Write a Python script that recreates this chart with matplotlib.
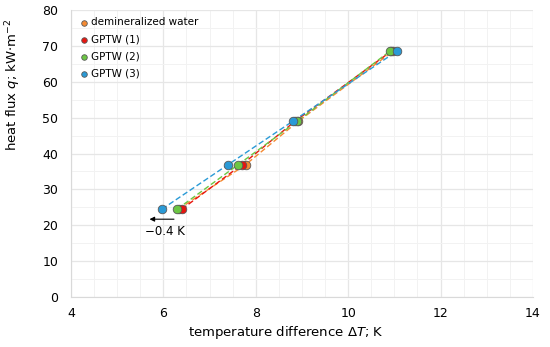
import matplotlib.pyplot as plt
from matplotlib.ticker import MultipleLocator

# heat flux levels (kW/m2)
q_demin = [24.5, 36.9, 49.0, 68.5]
q_gptw1 = [24.5, 36.9, 49.0, 68.5]
q_gptw2 = [24.5, 36.9, 49.0, 68.5]
q_gptw3 = [24.5, 36.9, 49.0, 68.5]

# temperature differences (K)
dT_demin = [6.33, 7.78, 8.92, 10.97]
dT_gptw1 = [6.40, 7.70, 8.85, 10.93]
dT_gptw2 = [6.30, 7.62, 8.90, 10.90]
dT_gptw3 = [5.97, 7.40, 8.80, 11.05]

labels = ['demineralized water', 'GPTW (1)', 'GPTW (2)', 'GPTW (3)']
colors = ['#f58a32', '#e8150f', '#6cc644', '#2a9ad6']

fig = plt.figure(figsize=(5.5, 3.47), dpi=100)
ax = fig.add_axes([0.129, 0.144, 0.84, 0.827])

series = [(dT_demin, q_demin), (dT_gptw1, q_gptw1), (dT_gptw2, q_gptw2), (dT_gptw3, q_gptw3)]
for (x, y), lab, c in zip(series, labels, colors):
    ax.plot(x, y, ls=(0, (4, 2)), lw=1.0, color=c, zorder=2)
    ax.scatter(x, y, s=38, color=c, edgecolor='#595959', linewidth=0.6, zorder=3, label=lab)

# shift arrow
ax.annotate('', xy=(5.64, 21.7), xytext=(6.29, 21.7),
            arrowprops=dict(arrowstyle='-|>', color='black', lw=0.8, mutation_scale=7))
ax.text(6.03, 18.4, '\u22120.4 K', ha='center', va='center', fontsize=8.5)

ax.set_xlim(4, 14)
ax.set_ylim(0, 80)
ax.xaxis.set_major_locator(MultipleLocator(2))
ax.xaxis.set_minor_locator(MultipleLocator(0.5))
ax.yaxis.set_major_locator(MultipleLocator(10))
ax.yaxis.set_minor_locator(MultipleLocator(5))
ax.grid(which='major', color='#e6e6e6', lw=0.9)
ax.grid(which='minor', color='#f2f2f2', lw=0.7)
ax.set_axisbelow(True)
ax.tick_params(which='both', length=0, labelsize=9)
ax.tick_params(axis='x', pad=7)
ax.tick_params(axis='y', pad=9)
for s in ax.spines.values():
    s.set_visible(False)
ax.spines['left'].set_visible(True)
ax.spines['bottom'].set_visible(True)
ax.spines['left'].set_color('#d9d9d9')
ax.spines['bottom'].set_color('#d9d9d9')

ax.set_xlabel(r'temperature difference $\Delta T$; K', fontsize=9.5)
ax.set_ylabel(r'heat flux $q$; kW$\cdot$m$^{-2}$', fontsize=9.5)
ax.xaxis.set_label_coords(0.465, -0.095)
ax.yaxis.set_label_coords(-0.104, 0.739)

leg = ax.legend(loc='upper left', frameon=False, fontsize=7.5, handletextpad=0.0,
                labelspacing=0.68, borderaxespad=0.3, handlelength=1.2, scatterpoints=1,
                markerscale=0.65, bbox_to_anchor=(0.0, 1.0))

fig.savefig('out.png', dpi=100)
